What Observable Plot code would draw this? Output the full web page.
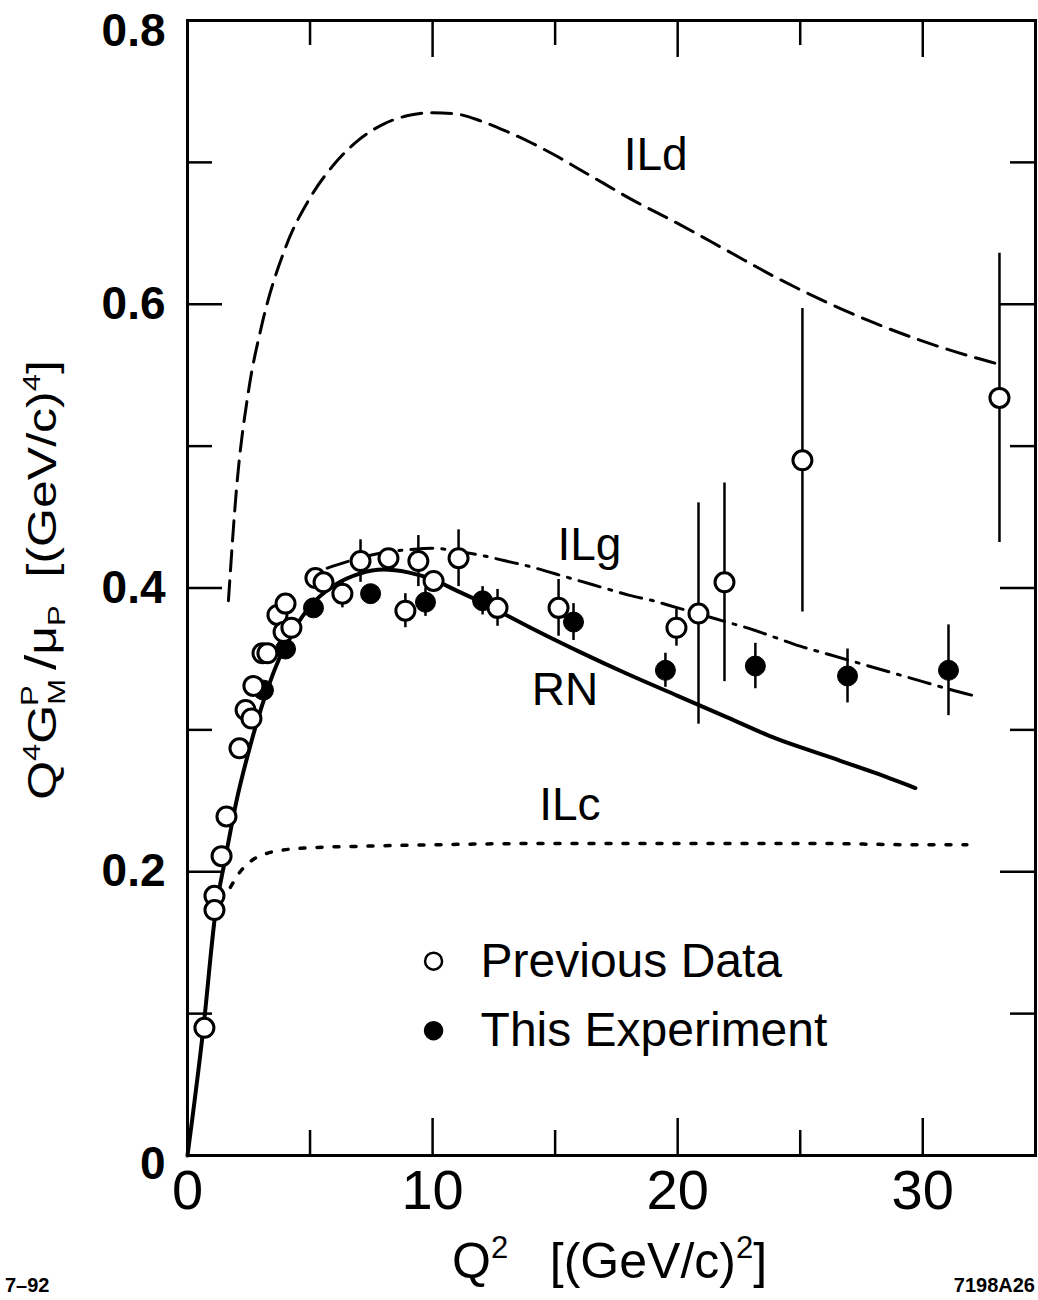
<!DOCTYPE html>
<html><head><meta charset="utf-8">
<script src="https://cdn.jsdelivr.net/npm/d3@7"></script>
<script src="https://cdn.jsdelivr.net/npm/@observablehq/plot@0.6"></script>
<style>body{margin:0;background:#fff}</style>
</head><body><div id="chart"></div>
<script>
// ---- Previous data (open circles) ----
const prevQ2  = [0.69,1.10,1.10,1.39,1.59,2.12,2.37,2.61,2.69,3.06,3.26,3.67,4.00,3.92,4.24,5.22,5.55,6.32,7.06,8.20,8.89,9.42,10.04,11.06,12.65,15.14,19.95,20.85,21.91,25.09,33.13];
const prevVal = [0.090,0.183,0.173,0.211,0.239,0.287,0.314,0.308,0.331,0.354,0.354,0.381,0.389,0.369,0.372,0.407,0.404,0.396,0.419,0.421,0.384,0.419,0.405,0.421,0.386,0.386,0.372,0.382,0.404,0.490,0.534];
const prevErr = [0,0,0,0,0,0,0,0,0,0,0,0,0,0,0,0,0,0.010,0.015,0,0.012,0.018,0,0.020,0.013,0.020,0.013,0.078,0.070,0.107,0.102];
// ---- This experiment (filled circles) ----
const expQ2  = [3.10,4.00,5.14,7.47,9.71,12.04,15.75,19.50,23.17,26.93,31.05];
const expVal = [0.328,0.357,0.386,0.396,0.390,0.391,0.376,0.342,0.345,0.338,0.342];
const expErr = [0,0,0,0,0.010,0.010,0.013,0.012,0.016,0.019,0.032];
// ---- Model curves ----
const rnQ2  = [0,0.65,1.14,1.55,2.0,2.5,3.0,3.5,4.0,5.0,6.0,7.0,8.0,9.0,10.0,11.0,12.0,13.0,14.0,16.0,18.0,20.0,22.0,24.0,26.0,28.0,29.7];
const rnVal = [0,0.090,0.171,0.210,0.250,0.285,0.315,0.340,0.360,0.387,0.402,0.410,0.413,0.411,0.406,0.398,0.390,0.381,0.372,0.355,0.339,0.324,0.309,0.294,0.282,0.270,0.259];
const ildQ2  = [1.67,2.0,2.5,3.0,4.0,5.0,6.0,7.0,8.0,9.0,10.0,11.0,12.0,13.0,14.0,15.0,16.0,17.0,18.0,20.0,22.0,24.0,26.0,28.0,30.0,32.0,33.05];
const ildVal = [0.391,0.470,0.540,0.583,0.640,0.675,0.699,0.716,0.727,0.733,0.735,0.734,0.729,0.722,0.714,0.705,0.695,0.685,0.675,0.657,0.638,0.619,0.602,0.587,0.574,0.563,0.558];
const ilgQ2  = [5.7,6.6,8,9,10,11,12,13,14,15,16,17,18,19,20,21,22,23,24,25,26,27,28,29,30,31,32.1];
const ilgVal = [0.414,0.419,0.425,0.427,0.428,0.426,0.423,0.419,0.415,0.410,0.405,0.400,0.395,0.391,0.386,0.381,0.376,0.371,0.365,0.359,0.354,0.349,0.344,0.339,0.334,0.329,0.324];
const ilcQ2  = [1.75,2.15,2.55,3.25,3.8,5.1,7.2,10,15,20,25,30,31.8];
const ilcVal = [0.189,0.200,0.207,0.213,0.215,0.217,0.218,0.219,0.220,0.220,0.220,0.219,0.219];
// ---- Curve labels (anchor in data units) ----
const curveNames = ["ILd","ILg","RN","ILc"];
const curveLabelQ2 = [19.1,16.4,15.4,15.6];
const curveLabelVal = [0.705,0.430,0.328,0.247];
// ---- Legend ----
const legendNames = ["Previous Data","This Experiment"];
const legendFilled = [false,true];
const legendQ2 = [10.04,10.04];
const legendVal = [0.137,0.088];
// ---- Axis ticks ----
const xTickLabels = [0,10,20,30];
const xMajor = [10,20,30], xMinor = [5,15,25];
const yTickLabelsMid = [0.2,0.4,0.6];
const yTickLabelTop = [0.8], yTickLabelBottom = [0];
const yMajor = [0.2,0.4,0.6], yMinor = [0.1,0.3,0.5,0.7];

const zip = (xs, ys, es) => xs.map((x,i)=>({x, y: ys[i], e: es ? es[i] : 0}));
const prev = zip(prevQ2, prevVal, prevErr);
const exp = zip(expQ2, expVal, expErr);
const rn = zip(rnQ2, rnVal), ild = zip(ildQ2, ildVal), ilg = zip(ilgQ2, ilgVal), ilc = zip(ilcQ2, ilcVal);
const labels = curveNames.map((n,i)=>({n, x: curveLabelQ2[i], y: curveLabelVal[i]}));
const legend = legendNames.map((n,i)=>({n, f: legendFilled[i], x: legendQ2[i], y: legendVal[i]}));

const W = 1038, H = 1300, mL = 187, mR = 3, mT = 20, mB = 145;
const iw = W - mL - mR, ih = H - mT - mB;
const FONT = "'Liberation Sans', Arial, sans-serif";
const yFmt = d => d === 0 ? "0" : d.toFixed(1);

const svg = Plot.plot({
  width: W, height: H,
  marginLeft: mL, marginRight: mR, marginTop: mT, marginBottom: mB,
  x: {domain: [0, 34.6]},
  y: {domain: [0, 0.8]},
  style: {fontFamily: FONT, color: "black", background: "white", overflow: "visible"},
  marks: [
    Plot.tickX(xMajor, {x: d=>d, insetTop: ih-37, strokeWidth: 2.5}),
    Plot.tickX(xMinor, {x: d=>d, insetTop: ih-25, strokeWidth: 2.5}),
    Plot.tickX(xMajor, {x: d=>d, insetBottom: ih-37, strokeWidth: 2.5}),
    Plot.tickX(xMinor, {x: d=>d, insetBottom: ih-25, strokeWidth: 2.5}),
    Plot.tickY(yMajor, {y: d=>d, insetRight: iw-35, strokeWidth: 2.5}),
    Plot.tickY(yMinor, {y: d=>d, insetRight: iw-25, strokeWidth: 2.5}),
    Plot.tickY(yMajor, {y: d=>d, insetLeft: iw-35, strokeWidth: 2.5}),
    Plot.tickY(yMinor, {y: d=>d, insetLeft: iw-25, strokeWidth: 2.5}),
    Plot.axisX({ticks: xTickLabels, tickSize: 0, tickPadding: 14, fontSize: 56, label: null, tickFormat: d=>String(d)}),
    Plot.axisY({ticks: yTickLabelsMid, tickSize: 0, tickPadding: 22, fontSize: 46, fontWeight: "bold", label: null, tickFormat: yFmt}),
    Plot.axisY({ticks: yTickLabelTop, tickSize: 0, tickPadding: 22, fontSize: 46, fontWeight: "bold", label: null, tickFormat: yFmt, dy: 11}),
    Plot.axisY({ticks: yTickLabelBottom, tickSize: 0, tickPadding: 22, fontSize: 46, fontWeight: "bold", label: null, tickFormat: yFmt, dy: 9}),
    Plot.line(ild, {x: "x", y: "y", curve: "monotone-x", stroke: "black", strokeWidth: 3, strokeDasharray: "20,10"}),
    Plot.line(ilg, {x: "x", y: "y", curve: "monotone-x", stroke: "black", strokeWidth: 3, strokeDasharray: "22,9,3,9"}),
    Plot.line(ilc, {x: "x", y: "y", curve: "monotone-x", stroke: "black", strokeWidth: 3.5, strokeDasharray: "5,12"}),
    Plot.line(rn, {x: "x", y: "y", curve: "monotone-x", stroke: "black", strokeWidth: 4}),
    Plot.ruleX(prev.filter(d=>d.e>0), {x: "x", y1: d=>d.y-d.e, y2: d=>d.y+d.e, strokeWidth: 2.5}),
    Plot.ruleX(exp.filter(d=>d.e>0), {x: "x", y1: d=>d.y-d.e, y2: d=>d.y+d.e, strokeWidth: 2.5}),
    Plot.dot(exp, {x: "x", y: "y", r: 10, fill: "black", stroke: "black", strokeWidth: 1}),
    Plot.dot(prev, {x: "x", y: "y", r: 9.5, fill: "white", stroke: "black", strokeWidth: 3}),
    Plot.text(labels, {x: "x", y: "y", text: "n", fontSize: 46, textAnchor: "middle", fill: "black"}),
    Plot.dot(legend, {x: "x", y: "y", r: 8.5, fill: d=>d.f ? "black" : "white", stroke: "black", strokeWidth: 2.5}),
    Plot.text(legend, {x: "x", y: "y", text: "n", dx: 47, fontSize: 48, textAnchor: "start", fill: "black"}),
    Plot.frame({stroke: "black", strokeWidth: 3})
  ]
});
document.getElementById("chart").appendChild(svg);

// rich text helper for super/subscripts
function rich(parent, segs, base) {
  const t = parent.append("text").attr("font-size", base).attr("fill", "black")
    .attr("text-anchor", "start")
    .style("white-space", "pre").style("font-family", FONT);
  let prevShift = 0;
  for (const [s, shift, f, dx] of segs) {
    const ts = t.append("tspan").text(s).attr("font-size", base * f).attr("dy", shift - prevShift);
    if (dx) ts.attr("dx", dx);
    prevShift = shift;
  }
  return t;
}
const root = d3.select(svg);
// y title
const yg = root.append("g").attr("transform", "translate(56,580) rotate(-90) scale(1,0.8)");
rich(yg, [["Q",0,1],["4",-20,0.62],["G",0,1],["M",11,0.62],["P",-22,0.62,-27],[" /",0,1.1],["\u03bc",0,1],["P",11,0.62],["  [(GeV/c)",0,1],["4",-20,0.62],["]",0,1]], 50)
  .attr("text-anchor", "middle");
// x title
rich(root, [["Q",0,1],["2",-20,0.62],["   [(GeV/c)",0,1],["2",-20,0.62],["]",0,1]], 50)
  .attr("x", 452).attr("y", 1278);
// corner notes
root.append("text").attr("x", 5).attr("y", 1292).attr("font-size", 20).attr("font-weight", "bold")
  .attr("text-anchor", "start").style("font-family", FONT).text("7\u201392");
root.append("text").attr("x", 1035).attr("y", 1292).attr("font-size", 20).attr("font-weight", "bold")
  .attr("text-anchor", "end").style("font-family", FONT).text("7198A26");
</script>
</body></html>
